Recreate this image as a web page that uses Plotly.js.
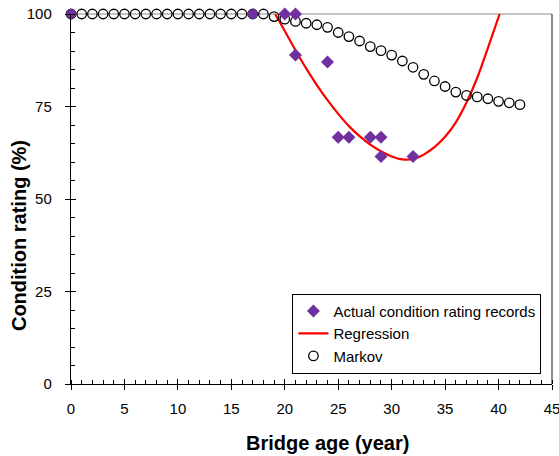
<!DOCTYPE html>
<html>
<head>
<meta charset="utf-8">
<script src="https://cdn.plot.ly/plotly-3.0.1.min.js"></script>
<style>html,body{margin:0;padding:0;background:#fff;}#chart{width:559px;height:456px;}</style>
</head>
<body>
<div id="chart"></div>
<script>
// Actual condition rating records
const actualAge = [20, 21, 21, 24, 25, 26, 28, 29, 29, 32, 0, 17];
const actualRating = [100, 100, 88.9, 87.0, 66.7, 66.7, 66.7, 66.7, 61.5, 61.5, 100, 100];
const actualSymbols = ['diamond', 'diamond', 'diamond', 'diamond', 'diamond', 'diamond', 'diamond', 'diamond', 'diamond', 'diamond', 'circle', 'circle'];

// Regression curve
const regAge = [19.1, 20, 21, 22, 23, 24, 25, 26, 27, 28, 29, 30, 31, 32, 33, 34, 35, 36, 37, 38, 39, 40.1];
const regRating = [100, 95.4, 90.2, 85.3, 80.8, 76.7, 73.0, 69.7, 67.0, 64.7, 62.9, 61.5, 60.7, 60.8, 62.0, 64.0, 66.8, 70.7, 76.1, 82.7, 90.8, 100];

// Markov prediction
const markovAge = [0,1,2,3,4,5,6,7,8,9,10,11,12,13,14,15,16,17,18,19,20,21,22,23,24,25,26,27,28,29,30,31,32,33,34,35,36,37,38,39,40,41,42];
const markovRating = [100,100,100,100,100,100,100,100,100,100,100,100,100,100,100,100,100,100,100,99.3,98.6,98.0,97.5,97.1,96.4,95.0,93.9,92.7,91.2,90.1,88.9,87.3,85.6,83.7,81.9,80.4,78.9,78.0,77.6,77.1,76.4,76.0,75.5];

const xTickVals = [0,5,10,15,20,25,30,35,40,45];
const yTickVals = [0,25,50,75,100];
const xTitle = 'Bridge age (year)';
const yTitle = 'Condition rating (%)';

const FONT = 'Liberation Sans, Arial, Helvetica, sans-serif';

const traces = [
  {
    x: regAge, y: regRating, type: 'scatter', mode: 'lines', name: 'Regression', legendrank: 2,
    line: {color: '#ff0000', width: 2.2, shape: 'spline', smoothing: 1},
    cliponaxis: true
  },
  {
    x: markovAge, y: markovRating, type: 'scatter', mode: 'markers', name: 'Markov', legendrank: 3,
    marker: {symbol: 'circle-open', size: 9.5, color: '#000000', line: {color: '#000000', width: 1.3}},
    cliponaxis: false
  },
  {
    x: actualAge, y: actualRating, type: 'scatter', mode: 'markers', name: 'Actual condition rating records', legendrank: 1,
    marker: {symbol: actualSymbols, size: 10, color: '#7030a0', line: {width: 0}},
    cliponaxis: false
  },
  {x: [], y: [], xaxis: 'x2', yaxis: 'y2', showlegend: false, hoverinfo: 'skip', type: 'scatter'}
];

const layout = {
  width: 559, height: 456,
  margin: {l: 71, r: 7, t: 14, b: 72, pad: 0},
  paper_bgcolor: '#ffffff', plot_bgcolor: '#ffffff',
  font: {family: FONT, size: 15, color: '#000000'},
  showlegend: true,
  legend: {
    x: 0.978, y: 0.028, xanchor: 'right', yanchor: 'bottom',
    bordercolor: '#000000', borderwidth: 1, bgcolor: '#ffffff',
    font: {family: FONT, size: 15, color: '#000000'},
    traceorder: 'normal', tracegroupgap: 0, itemwidth: 30
  },
  xaxis: {
    range: [0, 45], tickvals: xTickVals, ticktext: xTickVals.map(String),
    ticks: 'outside', ticklen: 5, tickcolor: '#000', tickwidth: 1,
    showline: true, linecolor: '#000', linewidth: 1.2, showgrid: false, zeroline: false,
    ticklabelstandoff: 6, ticklabeloverflow: 'allow',
    tickfont: {family: FONT, size: 15},
    minor: {dtick: 1, tick0: 0, ticks: 'inside', ticklen: 4, tickcolor: '#000', tickwidth: 1, showgrid: false}
  },
  yaxis: {
    range: [0, 100], tickvals: yTickVals, ticktext: yTickVals.map(String),
    ticks: 'outside', ticklen: 5, tickcolor: '#000', tickwidth: 1,
    showline: true, linecolor: '#000', linewidth: 1.2, showgrid: false, zeroline: false,
    ticklabelstandoff: 10, ticklabeloverflow: 'allow',
    tickfont: {family: FONT, size: 15},
    minor: {dtick: 5, tick0: 0, ticks: 'inside', ticklen: 4, tickcolor: '#000', tickwidth: 1, showgrid: false}
  },
  xaxis2: {
    overlaying: 'x', range: [0, 45], tickvals: xTickVals, ticks: 'inside', ticklen: 5,
    tickcolor: '#000', showticklabels: false, showline: false, showgrid: false, zeroline: false, side: 'bottom'
  },
  yaxis2: {
    overlaying: 'y', range: [0, 100], tickvals: yTickVals, ticks: 'inside', ticklen: 5,
    tickcolor: '#000', showticklabels: false, showline: false, showgrid: false, zeroline: false, side: 'left'
  },
  annotations: [
    {text: xTitle, xref: 'paper', yref: 'paper', x: 0.534, y: -0.16, xanchor: 'center', yanchor: 'middle',
     showarrow: false, font: {family: FONT, size: 20, weight: 'bold', color: '#000'}},
    {text: yTitle, xref: 'paper', yref: 'paper', x: -0.108, y: 0.40, xanchor: 'center', yanchor: 'middle',
     textangle: -90, showarrow: false, font: {family: FONT, size: 20, weight: 'bold', color: '#000'}}
  ],
  shapes: [
    {type: 'line', xref: 'paper', yref: 'paper', x0: 0, x1: 1, y0: 1, y1: 1, line: {color: '#8c8c8c', width: 1.2}, layer: 'below'},
    {type: 'line', xref: 'paper', yref: 'paper', x0: 1, x1: 1, y0: 0, y1: 1, line: {color: '#404040', width: 1.2}, layer: 'below'}
  ]
};

Plotly.newPlot('chart', traces, layout, {staticPlot: true, displayModeBar: false});
</script>
</body>
</html>
